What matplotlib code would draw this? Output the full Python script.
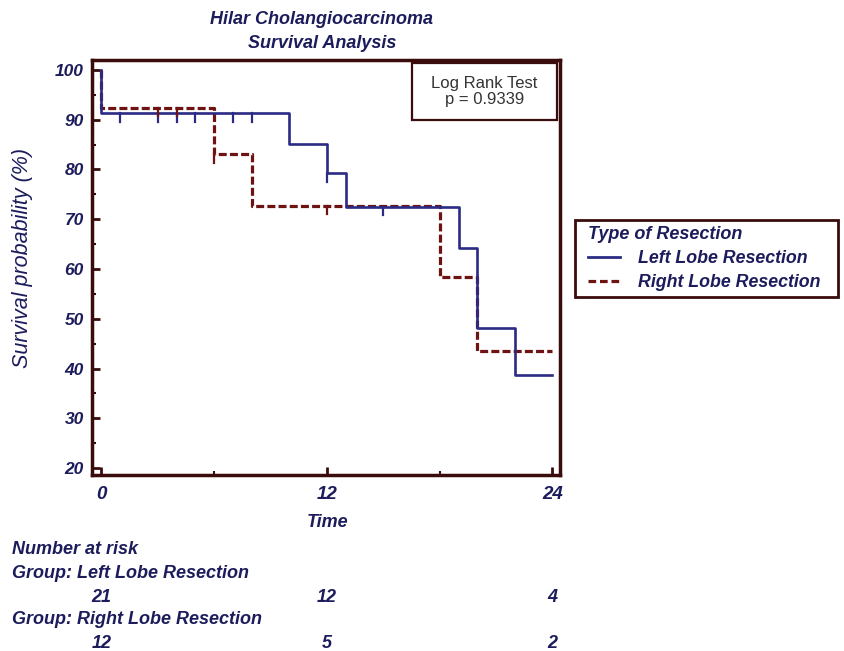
import matplotlib
matplotlib.use("Agg")
import matplotlib.pyplot as plt
import matplotlib.transforms as mtransforms
from matplotlib.lines import Line2D
from matplotlib.patches import Rectangle

# ---- data ----
left_times = [0, 10, 12, 13, 19, 20, 22]
left_surv = [91.3, 85.1, 79.2, 72.5, 64.3, 48.2, 38.6]
left_censor = [1, 3, 4, 5, 7, 8, 12, 15]

right_times = [0, 6, 8, 18, 20]
right_surv = [92.4, 83.1, 72.7, 58.3, 43.5]
right_censor = [3, 4, 6, 12]

end_time = 24
risk_times = [0, 12, 24]
risk_left = [21, 12, 4]
risk_right = [12, 5, 2]
x_ticks = [0, 12, 24]
y_ticks = [20, 30, 40, 50, 60, 70, 80, 90, 100]

NAVY = "#1c1c5c"
FRAME = "#3a0c0c"
BLUE = "#2b2b85"
RED = "#6e1212"
FONT = "Liberation Sans"

plt.rcParams['font.family'] = [FONT, 'DejaVu Sans']

W, H = 845, 651
fig = plt.figure(figsize=(W / 100, H / 100), dpi=100)
ax = fig.add_axes([92 / W, 1 - 475 / H, (560 - 92) / W, (475 - 60) / H])


def step_xy(times, surv):
    xs = [0]
    ys = [100]
    for t, s in zip(times, surv):
        xs += [t, t]
        ys += [ys[-1], s]
    xs.append(end_time)
    ys.append(ys[-1])
    return xs, ys


def surv_at(times, surv, t):
    val = 100
    for tt, s in zip(times, surv):
        if tt <= t:
            val = s
    return val


lx, ly = step_xy(left_times, left_surv)
rx, ry = step_xy(right_times, right_surv)
ax.plot(rx, ry, color=RED, lw=2.3, linestyle=(0, (2.5, 1.0)), solid_capstyle='butt')
ax.plot(lx, ly, color=BLUE, lw=1.9)

tick_len = 1.7
for t in left_censor:
    s = surv_at(left_times, left_surv, t)
    ax.plot([t, t], [s, s - tick_len], color=BLUE, lw=1.6)
for t in right_censor:
    s = surv_at(right_times, right_surv, t)
    ax.plot([t, t], [s, s - tick_len], color=RED, lw=1.6)

ax.set_xlim(-0.5, 24.4)
ax.set_ylim(18.6, 102)
ax.set_xticks(x_ticks)
ax.set_xticks([6, 18], minor=True)
ax.set_yticks(y_ticks)
ax.set_yticks([25, 35, 45, 55, 65, 75, 85, 95], minor=True)
ax.tick_params(which='major', direction='in', length=6, width=2, color=FRAME,
               labelcolor=NAVY, pad=6)
ax.tick_params(axis='y', which='major', labelsize=12.5)
ax.tick_params(axis='x', which='major', labelsize=13.5, pad=8)
ax.tick_params(which='minor', direction='in', length=3, width=1.5, color=FRAME)
for lab in ax.get_xticklabels() + ax.get_yticklabels():
    lab.set_fontstyle('italic')
    lab.set_fontweight('bold')
for sp in ax.spines.values():
    sp.set_color(FRAME)
    sp.set_linewidth(2.5)

ax.set_xlabel("Time", color=NAVY, fontsize=13, fontstyle='italic', fontweight='bold')
ax.xaxis.set_label_coords(0.504, -0.094)
ax.set_ylabel("Survival probability (%)", color=NAVY, fontsize=15.5, fontstyle='italic')
ax.yaxis.set_label_coords(-0.126, 0.523)

fig.text(322 / W, 1 - 20 / H, "Hilar Cholangiocarcinoma", ha='center', va='center',
         color=NAVY, fontsize=13, fontstyle='italic', fontweight='bold')
fig.text(322 / W, 1 - 43 / H, "Survival Analysis", ha='center', va='center',
         color=NAVY, fontsize=13, fontstyle='italic', fontweight='bold')

# Log rank box
ax.add_patch(Rectangle((0.684, 0.855), 0.994 - 0.684, 0.993 - 0.855, transform=ax.transAxes,
                       facecolor='white', edgecolor=FRAME, lw=1.6, zorder=5))
ax.text(0.839, 0.924, "Log Rank Test\np = 0.9339", transform=ax.transAxes,
        ha='center', va='center', fontsize=12, color="#333333", linespacing=1.05, zorder=6)

# Legend
handles = [Line2D([], [], color=BLUE, lw=2),
           Line2D([], [], color=RED, lw=2.3, linestyle=(0, (2.4, 1.2)))]
leg = fig.legend(handles, ["Left Lobe Resection", "Right Lobe Resection"],
                 title="Type of Resection", loc='upper left',
                 bbox_to_anchor=(588 / W, 1 - 226 / H), frameon=False,
                 handlelength=1.8, handletextpad=1.0, borderpad=0, borderaxespad=0,
                 labelspacing=0.4, alignment='left',
                 prop=dict(family=FONT, style='italic', weight='bold', size=12.8))
leg.get_title().set_color(NAVY)
leg.get_title().set_fontstyle('italic')
leg.get_title().set_fontweight('bold')
leg.get_title().set_fontsize(13)
for t in leg.get_texts():
    t.set_color(NAVY)
fig.patches.append(Rectangle((575 / W, 1 - 297 / H), (838 - 575) / W, (297 - 220) / H,
                             transform=fig.transFigure, facecolor='none',
                             edgecolor=FRAME, lw=2))

kw = dict(color=NAVY, fontsize=13, fontstyle='italic', fontweight='bold', va='center')
fig.text(12 / W, 1 - 549 / H, "Number at risk", **kw)
fig.text(12 / W, 1 - 573 / H, "Group: Left Lobe Resection", **kw)
fig.text(12 / W, 1 - 620 / H, "Group: Right Lobe Resection", **kw)
trans = mtransforms.blended_transform_factory(ax.transData, fig.transFigure)
for t, n in zip(risk_times, risk_left):
    ax.text(t, 1 - 597 / H, str(n), transform=trans, ha='center', **kw)
for t, n in zip(risk_times, risk_right):
    ax.text(t, 1 - 643 / H, str(n), transform=trans, ha='center', **kw)

fig.savefig("out.png", dpi=100)
